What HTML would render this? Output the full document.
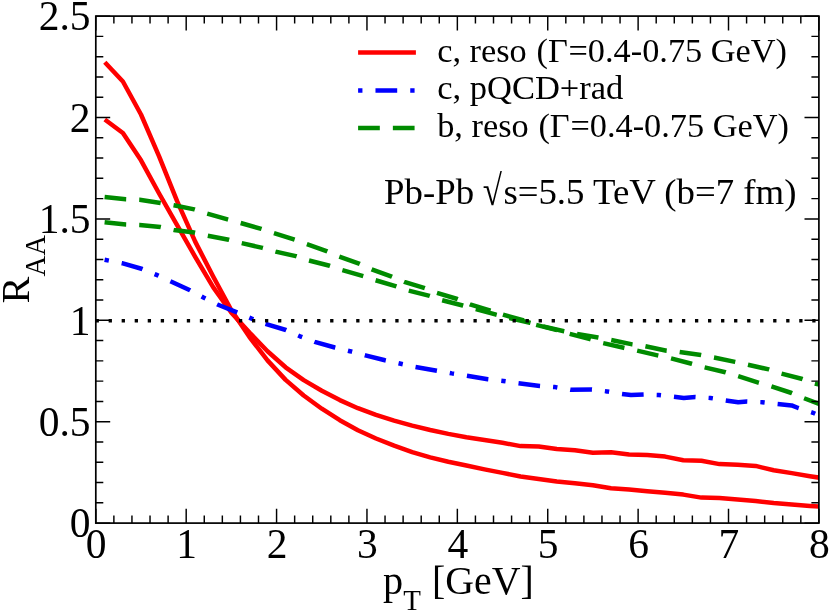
<!DOCTYPE html>
<html><head><meta charset="utf-8"><title>R_AA vs p_T</title>
<style>html,body{margin:0;padding:0;background:#fff;}svg{display:block;}text{font-family:"Liberation Serif",serif;fill:#000;}</style>
</head><body>
<svg width="830" height="612" viewBox="0 0 830 612" style="will-change:transform">
<rect width="830" height="612" fill="#fff"/>
<defs><clipPath id="cp"><rect x="95.8" y="16.1" width="723.1" height="507.0"/></clipPath></defs>
<g clip-path="url(#cp)" fill="none" stroke-linejoin="round" stroke-linecap="butt">
<path d="M104.8 62.3 L122.9 81.5 L141.0 114.5 L159.1 156.3 L177.1 201.2 L195.2 241.6 L213.3 276.8 L231.4 310.2 L249.5 337.1 L267.5 360.4 L285.6 379.9 L303.7 395.5 L321.8 408.7 L339.8 420.2 L357.9 430.2 L376.0 438.5 L394.1 445.7 L412.2 452.2 L430.2 457.4 L448.3 461.7 L466.4 465.5 L484.5 469.4 L502.5 472.9 L520.6 476.5 L538.7 478.9 L556.8 481.5 L574.9 483.3 L592.9 485.3 L611.0 488.3 L629.1 489.5 L647.2 491.2 L665.2 492.8 L683.3 494.6 L701.4 497.6 L719.5 498.1 L737.6 499.4 L755.6 501.0 L773.7 503.0 L791.8 504.5 L809.9 505.9 L827.9 507.0" stroke="#ff0000" stroke-width="4.50"/>
<path d="M104.8 119.5 L122.9 133.0 L141.0 160.3 L159.1 193.5 L177.1 225.2 L195.2 256.8 L213.3 287.4 L231.4 312.8 L249.5 332.6 L267.5 351.3 L285.6 367.3 L303.7 380.1 L321.8 390.7 L339.8 400.1 L357.9 408.2 L376.0 414.9 L394.1 420.6 L412.2 425.6 L430.2 430.0 L448.3 433.9 L466.4 437.2 L484.5 439.9 L502.5 442.8 L520.6 446.1 L538.7 446.6 L556.8 449.1 L574.9 450.3 L592.9 452.7 L611.0 452.3 L629.1 454.4 L647.2 455.1 L665.2 456.6 L683.3 460.2 L701.4 460.8 L719.5 464.1 L737.6 464.8 L755.6 465.9 L773.7 470.3 L791.8 473.1 L809.9 476.2 L827.9 479.0" stroke="#ff0000" stroke-width="4.50"/>
<path d="M104.6 259.8 L122.0 263.2 L142.3 269.0 L156.6 274.9 L169.7 281.0 L190.0 290.3 L203.5 297.6 L217.5 304.5 L237.0 312.4 L251.7 318.6 L265.0 323.8 L285.9 330.0 L300.0 336.3 L314.7 341.9 L334.8 347.5 L350.0 351.2 L365.4 355.4 L385.0 360.3 L400.8 363.8 L415.5 367.0 L436.9 370.7 L451.8 373.4 L467.0 375.8 L487.8 379.3 L503.3 381.0 L518.5 383.2 L539.8 385.9 L555.2 387.1 L570.5 389.8 L591.9 389.5 L607.0 391.4 L622.0 393.9 L631.0 395.1 L643.8 394.6 L658.8 395.1 L674.0 396.8 L683.8 398.0 L695.3 397.0 L710.5 398.0 L725.4 400.4 L738.2 402.3 L747.0 401.6 L762.2 402.2 L777.4 404.0 L791.6 405.4 L798.2 408.0 L813.0 412.8 L825.0 418.0" stroke="#0000ff" stroke-width="4.50" stroke-dasharray="4.34 13.04 21.72 13.04"/>
<path d="M104.6 196.9 L125.8 199.3 L139.6 199.8 L160.5 202.9 L173.8 205.3 L194.3 209.4 L207.0 213.5 L227.5 219.4 L240.3 222.9 L261.3 228.9 L273.8 233.0 L295.0 239.8 L306.7 244.1 L327.2 251.3 L339.2 256.6 L359.7 263.9 L371.7 269.4 L391.7 276.6 L404.3 281.9 L424.8 288.2 L436.8 292.8 L457.3 299.0 L470.0 304.3 L490.8 310.8 L503.0 314.7 L524.2 320.5 L535.7 324.7 L557.0 330.1 L569.8 333.8 L590.0 339.2 L603.0 343.1 L623.7 347.8 L636.5 350.5 L657.5 355.4 L670.8 358.3 L691.6 363.7 L704.0 367.2 L725.4 372.2 L737.8 376.1 L758.3 382.6 L771.0 386.3 L791.6 393.0 L803.4 398.0 L819.0 404.0 L825.0 406.5" stroke="#008b00" stroke-width="4.50" stroke-dasharray="21.72 13.04"/>
<path d="M104.6 222.2 L125.8 224.6 L139.6 225.1 L160.5 227.0 L173.8 229.9 L194.3 232.6 L207.8 235.7 L228.7 239.7 L241.5 243.1 L262.5 247.9 L275.7 251.6 L295.8 256.1 L309.0 260.5 L329.6 265.8 L342.3 270.1 L363.3 276.1 L375.4 280.2 L396.3 286.3 L408.6 290.6 L429.6 295.9 L442.1 300.2 L462.8 305.5 L475.0 308.9 L496.2 314.7 L507.8 317.6 L530.0 322.8 L542.5 326.2 L564.0 331.2 L576.7 333.8 L598.0 337.5 L611.0 340.0 L632.3 344.4 L645.3 346.3 L666.6 350.7 L679.6 352.0 L701.0 355.1 L714.0 357.5 L735.0 361.9 L748.0 364.8 L768.8 369.4 L781.3 373.5 L802.4 379.0 L814.4 383.4 L825.0 386.0" stroke="#008b00" stroke-width="4.50" stroke-dasharray="21.72 13.04"/>
</g>
<path d="M95.6 320.7 H818.9" stroke="#000" stroke-width="3.4" stroke-dasharray="3.3 9.73" fill="none"/>
<path d="M95.80 523.10 v-14.40 M95.80 16.10 v14.40 M113.88 523.10 v-7.50 M113.88 16.10 v7.50 M131.95 523.10 v-7.50 M131.95 16.10 v7.50 M150.03 523.10 v-7.50 M150.03 16.10 v7.50 M168.11 523.10 v-7.50 M168.11 16.10 v7.50 M186.19 523.10 v-14.40 M186.19 16.10 v14.40 M204.27 523.10 v-7.50 M204.27 16.10 v7.50 M222.34 523.10 v-7.50 M222.34 16.10 v7.50 M240.42 523.10 v-7.50 M240.42 16.10 v7.50 M258.50 523.10 v-7.50 M258.50 16.10 v7.50 M276.57 523.10 v-14.40 M276.57 16.10 v14.40 M294.65 523.10 v-7.50 M294.65 16.10 v7.50 M312.73 523.10 v-7.50 M312.73 16.10 v7.50 M330.81 523.10 v-7.50 M330.81 16.10 v7.50 M348.89 523.10 v-7.50 M348.89 16.10 v7.50 M366.96 523.10 v-14.40 M366.96 16.10 v14.40 M385.04 523.10 v-7.50 M385.04 16.10 v7.50 M403.12 523.10 v-7.50 M403.12 16.10 v7.50 M421.20 523.10 v-7.50 M421.20 16.10 v7.50 M439.27 523.10 v-7.50 M439.27 16.10 v7.50 M457.35 523.10 v-14.40 M457.35 16.10 v14.40 M475.43 523.10 v-7.50 M475.43 16.10 v7.50 M493.51 523.10 v-7.50 M493.51 16.10 v7.50 M511.58 523.10 v-7.50 M511.58 16.10 v7.50 M529.66 523.10 v-7.50 M529.66 16.10 v7.50 M547.74 523.10 v-14.40 M547.74 16.10 v14.40 M565.82 523.10 v-7.50 M565.82 16.10 v7.50 M583.89 523.10 v-7.50 M583.89 16.10 v7.50 M601.97 523.10 v-7.50 M601.97 16.10 v7.50 M620.05 523.10 v-7.50 M620.05 16.10 v7.50 M638.12 523.10 v-14.40 M638.12 16.10 v14.40 M656.20 523.10 v-7.50 M656.20 16.10 v7.50 M674.28 523.10 v-7.50 M674.28 16.10 v7.50 M692.36 523.10 v-7.50 M692.36 16.10 v7.50 M710.44 523.10 v-7.50 M710.44 16.10 v7.50 M728.51 523.10 v-14.40 M728.51 16.10 v14.40 M746.59 523.10 v-7.50 M746.59 16.10 v7.50 M764.67 523.10 v-7.50 M764.67 16.10 v7.50 M782.75 523.10 v-7.50 M782.75 16.10 v7.50 M800.82 523.10 v-7.50 M800.82 16.10 v7.50 M818.90 523.10 v-14.40 M818.90 16.10 v14.40 M95.80 523.10 h14.40 M818.90 523.10 h-14.40 M95.80 502.82 h7.50 M818.90 502.82 h-7.50 M95.80 482.54 h7.50 M818.90 482.54 h-7.50 M95.80 462.26 h7.50 M818.90 462.26 h-7.50 M95.80 441.98 h7.50 M818.90 441.98 h-7.50 M95.80 421.70 h14.40 M818.90 421.70 h-14.40 M95.80 401.42 h7.50 M818.90 401.42 h-7.50 M95.80 381.14 h7.50 M818.90 381.14 h-7.50 M95.80 360.86 h7.50 M818.90 360.86 h-7.50 M95.80 340.58 h7.50 M818.90 340.58 h-7.50 M95.80 320.30 h14.40 M818.90 320.30 h-14.40 M95.80 300.02 h7.50 M818.90 300.02 h-7.50 M95.80 279.74 h7.50 M818.90 279.74 h-7.50 M95.80 259.46 h7.50 M818.90 259.46 h-7.50 M95.80 239.18 h7.50 M818.90 239.18 h-7.50 M95.80 218.90 h14.40 M818.90 218.90 h-14.40 M95.80 198.62 h7.50 M818.90 198.62 h-7.50 M95.80 178.34 h7.50 M818.90 178.34 h-7.50 M95.80 158.06 h7.50 M818.90 158.06 h-7.50 M95.80 137.78 h7.50 M818.90 137.78 h-7.50 M95.80 117.50 h14.40 M818.90 117.50 h-14.40 M95.80 97.22 h7.50 M818.90 97.22 h-7.50 M95.80 76.94 h7.50 M818.90 76.94 h-7.50 M95.80 56.66 h7.50 M818.90 56.66 h-7.50 M95.80 36.38 h7.50 M818.90 36.38 h-7.50 M95.80 16.10 h14.40 M818.90 16.10 h-14.40" stroke="#000" stroke-width="1.45" fill="none"/>
<rect x="95.80" y="16.10" width="723.10" height="507.00" fill="none" stroke="#000" stroke-width="1.70"/>
<text x="96.2" y="558.4" font-size="41.5" text-anchor="middle">0</text>
<text x="186.6" y="558.4" font-size="41.5" text-anchor="middle">1</text>
<text x="277.0" y="558.4" font-size="41.5" text-anchor="middle">2</text>
<text x="367.4" y="558.4" font-size="41.5" text-anchor="middle">3</text>
<text x="457.8" y="558.4" font-size="41.5" text-anchor="middle">4</text>
<text x="548.1" y="558.4" font-size="41.5" text-anchor="middle">5</text>
<text x="638.5" y="558.4" font-size="41.5" text-anchor="middle">6</text>
<text x="728.9" y="558.4" font-size="41.5" text-anchor="middle">7</text>
<text x="819.3" y="558.4" font-size="41.5" text-anchor="middle">8</text>
<text x="90.5" y="537.3" font-size="41.5" text-anchor="end">0</text>
<text x="90.5" y="435.9" font-size="41.5" text-anchor="end">0.5</text>
<text x="90.5" y="334.5" font-size="41.5" text-anchor="end">1</text>
<text x="90.5" y="233.1" font-size="41.5" text-anchor="end">1.5</text>
<text x="90.5" y="131.7" font-size="41.5" text-anchor="end">2</text>
<text x="90.5" y="30.3" font-size="41.5" text-anchor="end">2.5</text>
<text x="383.0" y="593.5" font-size="40.2">p</text>
<text x="403.3" y="609.8" font-size="28.90">T</text>
<text x="432.0" y="593.9" font-size="39.8">[GeV]</text>
<g transform="translate(29.1 303.4) rotate(-90)"><text x="0" y="0" font-size="40.2">R</text><text x="26.9" y="15.8" font-size="28.60">AA</text></g>
<g fill="none" stroke-width="4.50">
<path d="M358.1 52.5 H415.9" stroke="#ff0000"/>
<path d="M358.1 90.6 H415.9" stroke="#0000ff" stroke-dasharray="4.34 13.04 21.72 13.04"/>
<path d="M358.1 128 H415.9" stroke="#008b00" stroke-dasharray="21.72 13.04"/>
</g>
<text y="61.6" font-size="34.3"><tspan x="437.2">c, reso </tspan><tspan dx="1.2">(Γ</tspan><tspan dx="0.8">=0.4-0.75 GeV)</tspan></text>
<text x="437.2" y="99.2" font-size="34.5">c, pQCD+rad</text>
<text y="136.9" font-size="34.3"><tspan x="437.2">b, reso </tspan><tspan dx="1.2">(Γ</tspan><tspan dx="0.8">=0.4-0.75 GeV)</tspan></text>
<text x="384.1" y="204.1" font-size="36.8">Pb-Pb</text>
<text transform="translate(482.8 204.7) scale(0.95 1.167)" font-size="36.8">√</text>
<text x="503.4" y="204.1" font-size="36.8">s=5.5 TeV (b=7 fm)</text>
</svg>
</body></html>
